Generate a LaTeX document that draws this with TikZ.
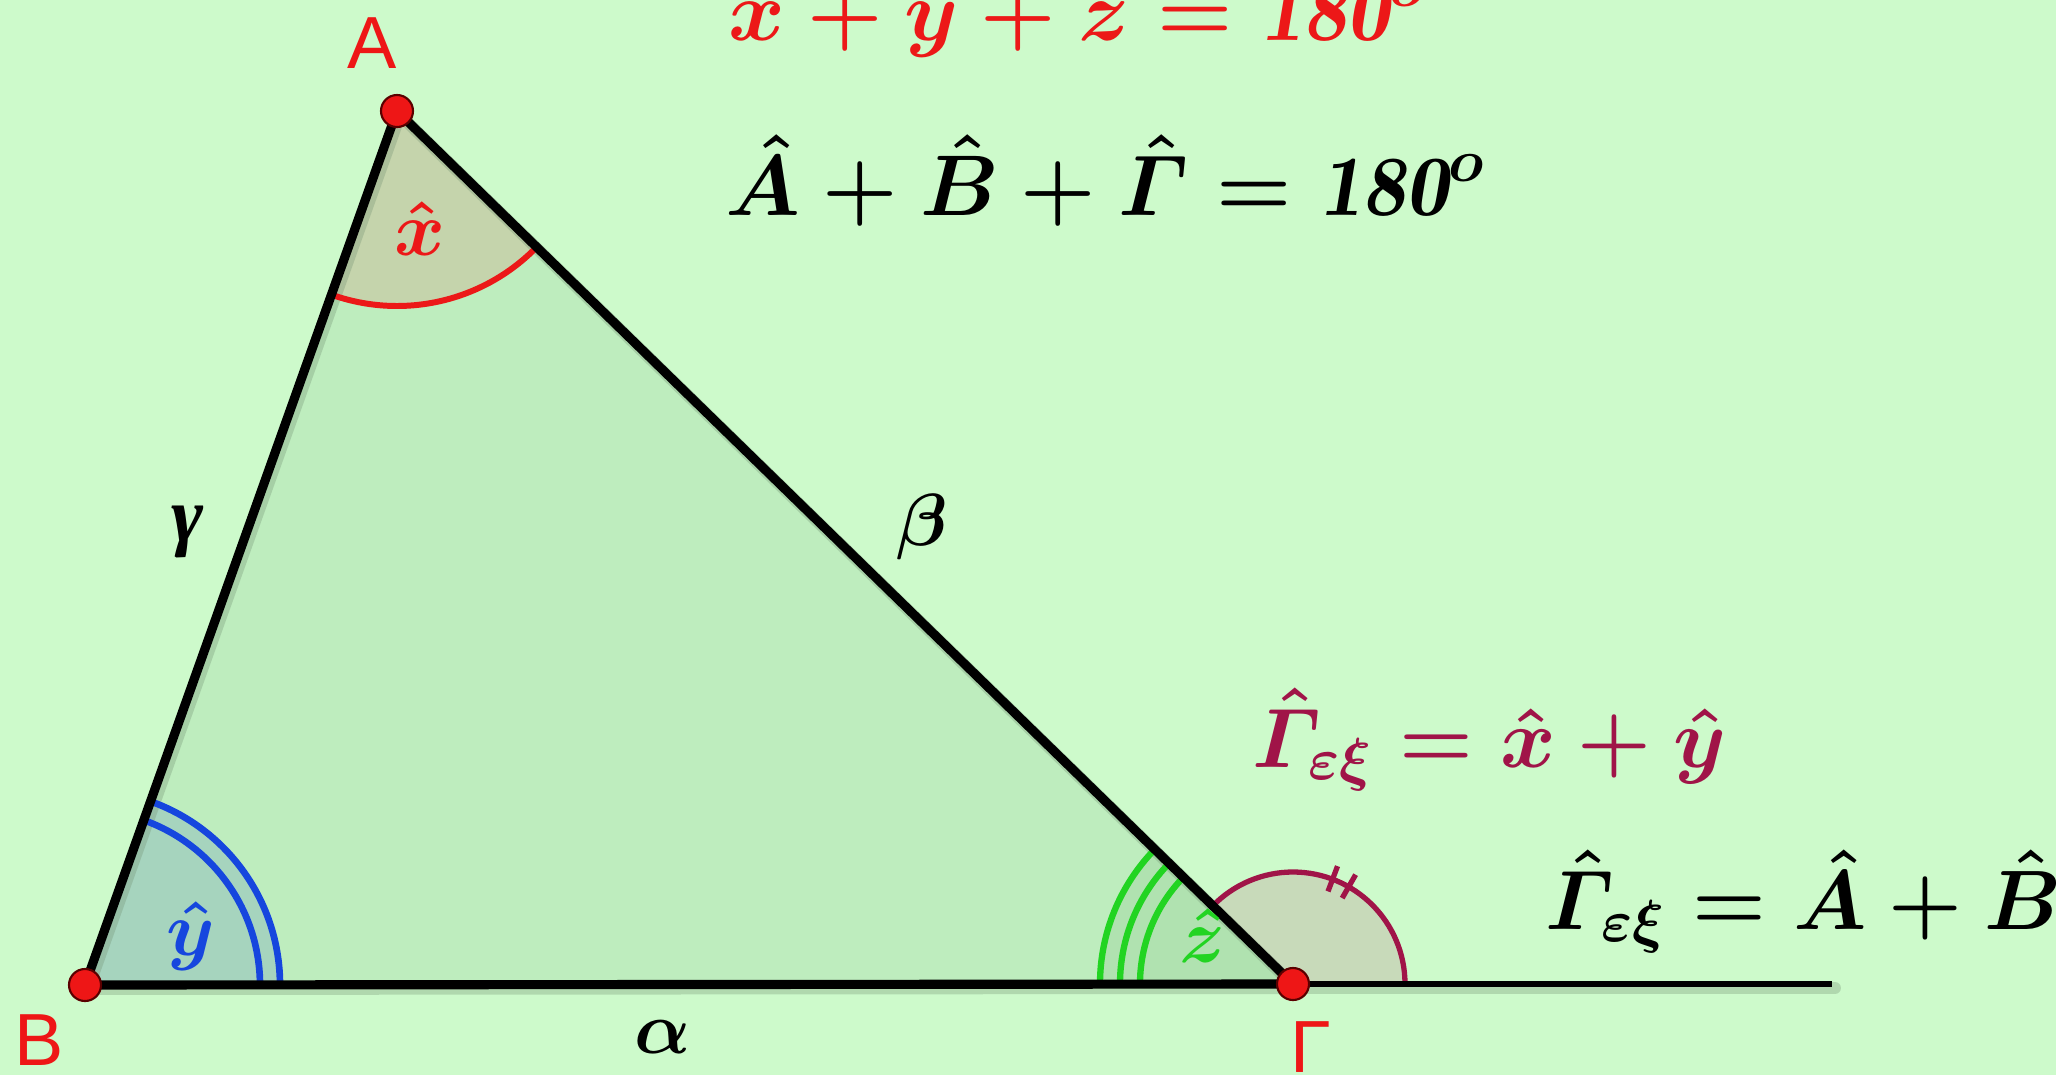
\documentclass[tikz,border=0pt]{standalone}
\usepackage{fix-cm}
\usepackage{amsmath}
\usepackage{fontspec}
\newfontfamily\labfont{Liberation Sans}
\newfontfamily\gamfont{Liberation Serif}
\definecolor{bgc}{RGB}{205,250,203}
\definecolor{trifill}{RGB}{190,237,190}
\definecolor{xsec}{RGB}{197,212,172}
\definecolor{ysec}{RGB}{166,212,190}
\definecolor{zsec}{RGB}{176,226,176}
\definecolor{esec}{RGB}{200,218,186}
\definecolor{ptred}{RGB}{238,22,22}
\definecolor{xred}{RGB}{236,24,24}
\definecolor{yblue}{RGB}{22,70,222}
\definecolor{zgreen}{RGB}{34,212,34}
\definecolor{maroon}{RGB}{160,20,72}
\definecolor{shadowc}{RGB}{110,140,110}
\tikzset{
  side/.style={line width=2.6pt, line cap=round, line join=round},
  sideshadow/.style={line width=3.4pt, draw=shadowc, draw opacity=0.3, line cap=round, line join=round},
  ext/.style={line width=1.9pt},
  dot/.style={circle, fill=ptred, draw={rgb,255:red,90;green,0;blue,0}, line width=0.6pt, minimum size=0.32cm, inner sep=0pt},
  vlabel/.style={text=ptred, font=\labfont\fontsize{21}{21}\selectfont, inner sep=0pt},
  slabel/.style={font=\fontsize{21}{21}\selectfont\boldmath, inner sep=0pt},
  alabel/.style={font=\fontsize{22}{22}\selectfont\boldmath, inner sep=0pt},
  eqbig/.style={font=\fontsize{24.5}{24.5}\selectfont\boldmath, inner sep=0pt, anchor=base west},
  eqmid/.style={font=\fontsize{24}{24}\selectfont\boldmath, inner sep=0pt, anchor=base west},
}
\begin{document}
\begin{tikzpicture}[x=0.01cm,y=0.01cm]
\useasboundingbox (0,0) rectangle (2056,-1075);
\fill[bgc] (0,0) rectangle (2056,-1075);
\coordinate (a) at (397,-111);
\coordinate (b) at (85,-985);
\coordinate (g) at (1293,-984);
\coordinate (e) at (1832,-984);
\coordinate (as) at (400,-115);
\coordinate (bs) at (88,-989);
\coordinate (gs) at (1296,-988);
\coordinate (es) at (1835,-988);
% triangle fill
\fill[trifill] (a) -- (b) -- (g) -- cycle;
% angle sectors
\fill[xsec] (a) -- ([shift={(250.4:195)}]a) arc[start angle=250.4, end angle=315.75, radius=195] -- cycle;
\fill[ysec] (b) -- ([shift={(0:195)}]b) arc[start angle=0, end angle=70.4, radius=195] -- cycle;
\fill[zsec] (g) -- ([shift={(135.75:193)}]g) arc[start angle=135.75, end angle=180, radius=193] -- cycle;
\fill[esec] (g) -- ([shift={(0:112)}]g) arc[start angle=0, end angle=135.75, radius=112] -- cycle;
% shadows of the sides
\draw[sideshadow] (gs) -- (es);
\draw[sideshadow] (as) -- (bs) -- (gs) -- cycle;
% angle arcs
\draw[xred, line width=1.7pt] ([shift={(250.4:195)}]a) arc[start angle=250.4, end angle=315.75, radius=195];
\draw[yblue, line width=1.9pt] ([shift={(0:175)}]b) arc[start angle=0, end angle=70.4, radius=175];
\draw[yblue, line width=1.9pt] ([shift={(0:195)}]b) arc[start angle=0, end angle=70.4, radius=195];
\draw[zgreen, line width=1.8pt] ([shift={(135.75:153)}]g) arc[start angle=135.75, end angle=180, radius=153];
\draw[zgreen, line width=1.8pt] ([shift={(135.75:173)}]g) arc[start angle=135.75, end angle=180, radius=173];
\draw[zgreen, line width=1.8pt] ([shift={(135.75:193)}]g) arc[start angle=135.75, end angle=180, radius=193];
\draw[maroon, line width=1.5pt] ([shift={(0:112)}]g) arc[start angle=0, end angle=135.75, radius=112];
\draw[maroon, line width=1.5pt] ([shift={(60.2:99)}]g) -- ([shift={(60.2:126)}]g);
\draw[maroon, line width=1.5pt] ([shift={(69.3:99)}]g) -- ([shift={(69.3:126)}]g);
% sides
\draw[ext] (g) -- (e);
\draw[side] (a) -- (b) -- (g) -- cycle;
% vertices
\node[dot] (A) at (a) {};
\node[dot] (B) at (b) {};
\node[dot] (G) at (g) {};
\node[vlabel] (lA) at (372,-43) {A};
\node[vlabel] (lB) at (39,-1040) {B};
\node[vlabel] (lG) at (1311,-1047) {Γ};
% side labels
\node[slabel, font=\gamfont\bfseries\itshape\fontsize{22}{22}\selectfont] (sg) at (188,-532) {γ};
\node[slabel] (sb) at (922,-527) {$\beta$};
\node[slabel] (sa) at (663,-1037) {$\alpha$};
% angle labels
\node[alabel, text=xred] (lx) at (420,-229) {$\hat{x}$};
\node[alabel, text=yblue] (ly) at (191,-936) {$\hat{y}$};
\node[alabel, text=zgreen] (lz) at (1203,-936) {$\hat{z}$};
% equations
\node[eqbig, text=xred] (eq1) at (728,-40) {$\hat{x}+\hat{y}+\hat{z}=\mathit{180}^{o}$};
\node[eqbig] (eq2) at (725,-215) {$\hat{A}+\hat{B}+\hat{\varGamma}=\mathit{180}^{o}$};
\node[eqmid, text=maroon] (eq3) at (1252,-767) {$\hat{\varGamma}_{\varepsilon\xi}=\hat{x}+\hat{y}$};
\node[eqmid] (eq4) at (1545,-929) {$\hat{\varGamma}_{\varepsilon\xi}=\hat{A}+\hat{B}$};
\end{tikzpicture}
\end{document}
